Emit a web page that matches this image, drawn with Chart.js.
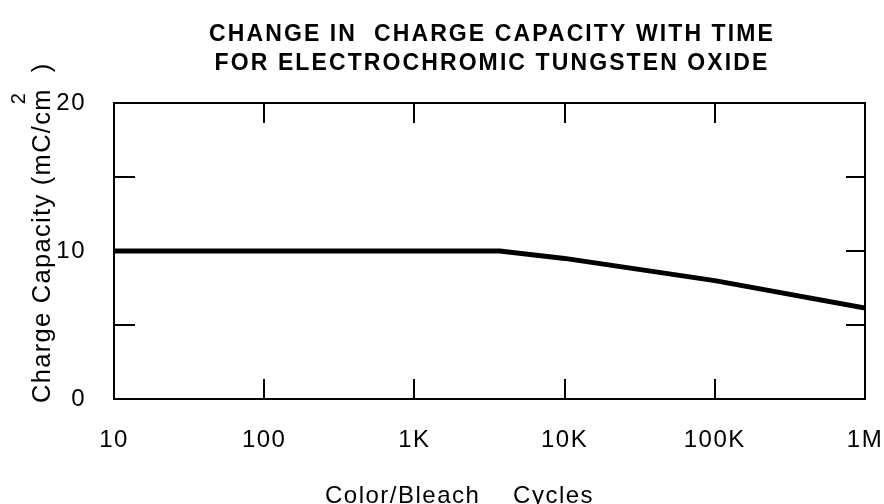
<!DOCTYPE html>
<html>
<head>
<meta charset="utf-8">
<script src="https://cdn.jsdelivr.net/npm/chart.js@4"></script>
<style>
  html, body { margin: 0; padding: 0; background: #ffffff; }
  #c { display: block; }
</style>
</head>
<body>
<canvas id="c" width="884" height="504"></canvas>
<script>
// ---- data ----
const cycles = [10, 3700, 10000, 100000, 1000000];
const capacity = [10, 10, 9.5, 8.0, 6.15];

const xTickValues = [10, 100, 1000, 10000, 100000, 1000000];
const xTickLabels = ['10', '100', '1K', '10K', '100K', '1M'];
const xMarkValues = [100, 1000, 10000, 100000];

const yTickValues = [0, 10, 20];
const yTickLabels = ['0', '10', '20'];
const yMarkValues = [5, 10, 15];

const titleLines = ['CHANGE IN  CHARGE CAPACITY WITH TIME', 'FOR ELECTROCHROMIC TUNGSTEN OXIDE'];
const xTitle = 'Color/Bleach    Cycles';
const yTitleMain = 'Charge Capacity (mC/cm';
const yTitleSup = '2';
const yTitleEnd = ')';

const FONT = '"Liberation Sans", Arial, Helvetica, sans-serif';

const decorPlugin = {
  id: 'decor',
  beforeDraw(chart) {
    chart.ctx.letterSpacing = '1.5px';
  },
  afterDatasetsDraw(chart) {
    const ctx = chart.ctx;
    const a = chart.chartArea;
    const xs = chart.scales.x, ys = chart.scales.y;
    ctx.save();
    ctx.letterSpacing = '0px';
    ctx.strokeStyle = '#000';
    ctx.lineWidth = 2;
    ctx.lineCap = 'butt';
    ctx.strokeRect(a.left, a.top, a.right - a.left, a.bottom - a.top);
    ctx.beginPath();
    xMarkValues.forEach(v => {
      const px = Math.round(xs.getPixelForValue(v));
      ctx.moveTo(px, a.top); ctx.lineTo(px, a.top + 20);
      ctx.moveTo(px, a.bottom); ctx.lineTo(px, a.bottom - 20);
    });
    yMarkValues.forEach(v => {
      const py = Math.round(ys.getPixelForValue(v));
      ctx.moveTo(a.left, py); ctx.lineTo(a.left + 21, py);
      ctx.moveTo(a.right, py); ctx.lineTo(a.right - 19, py);
    });
    ctx.stroke();
    ctx.restore();
  },
  afterDraw(chart) {
    const ctx = chart.ctx;
    ctx.save();
    ctx.fillStyle = '#000';
    ctx.font = 'bold 23px ' + FONT;
    ctx.letterSpacing = '2.1px';
    ctx.textAlign = 'center';
    ctx.textBaseline = 'alphabetic';
    ctx.fillText(titleLines[0], 492, 41);
    ctx.fillText(titleLines[1], 492, 70);
    ctx.font = '24px ' + FONT;
    ctx.letterSpacing = '1.5px';
    ctx.textAlign = 'left';
    ctx.fillText(xTitle, 325, 503);
    ctx.save();
    ctx.translate(50, 403);
    ctx.rotate(-Math.PI / 2);
    ctx.font = '25.5px ' + FONT;
    ctx.letterSpacing = '1.3px';
    ctx.textAlign = 'left';
    ctx.fillText(yTitleMain, 0, 0);
    const w = ctx.measureText(yTitleMain).width;
    ctx.font = '20px ' + FONT;
    ctx.fillText(yTitleSup, w - 16, -25);
    ctx.font = '25.5px ' + FONT;
    ctx.fillText(yTitleEnd, w + 16, 0);
    ctx.restore();
    ctx.restore();
  }
};

new Chart(document.getElementById('c'), {
  type: 'line',
  data: {
    datasets: [{
      data: cycles.map((c, i) => ({ x: c, y: capacity[i] })),
      borderColor: '#000',
      backgroundColor: '#000',
      borderWidth: 5,
      pointRadius: 0,
      tension: 0,
      fill: false
    }]
  },
  options: {
    responsive: false,
    animation: false,
    devicePixelRatio: 1,
    layout: { padding: { top: 103, right: 19, left: 0, bottom: 0 } },
    plugins: { legend: { display: false }, title: { display: false }, tooltip: { enabled: false } },
    scales: {
      x: {
        type: 'logarithmic',
        min: 10,
        max: 1000000,
        grid: { display: false },
        border: { display: false },
        afterBuildTicks: (axis) => { axis.ticks = xTickValues.map(v => ({ value: v })); },
        afterFit: (axis) => { axis.height = 105; axis.paddingLeft = 0; axis.paddingRight = 0; },
        ticks: {
          autoSkip: false,
          maxRotation: 0,
          minRotation: 0,
          padding: 19,
          color: '#000',
          font: { family: FONT, size: 24 },
          callback: (v) => { const i = xTickValues.indexOf(v); return i >= 0 ? xTickLabels[i] : ''; }
        }
      },
      y: {
        min: 0,
        max: 20,
        grid: { display: false },
        border: { display: false },
        afterBuildTicks: (axis) => { axis.ticks = yTickValues.map(v => ({ value: v })); },
        afterFit: (axis) => { axis.width = 114; },
        ticks: {
          padding: 20,
          color: '#000',
          font: { family: FONT, size: 24 },
          callback: (v) => { const i = yTickValues.indexOf(v); return i >= 0 ? yTickLabels[i] : ''; }
        }
      }
    }
  },
  plugins: [decorPlugin]
});
</script>
</body>
</html>
